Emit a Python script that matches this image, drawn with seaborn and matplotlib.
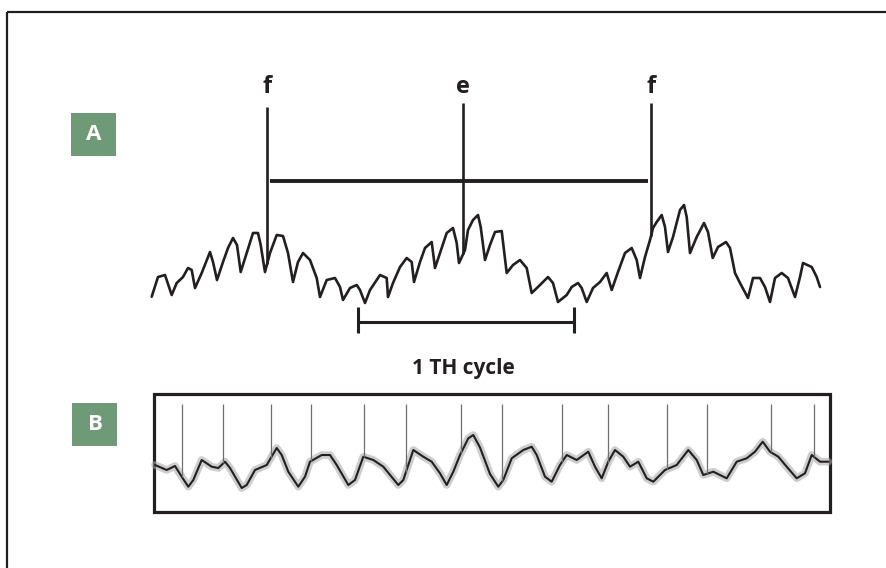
import numpy as np
import pandas as pd
import matplotlib
matplotlib.use("Agg")
import matplotlib.pyplot as plt
import seaborn as sns
from matplotlib.patches import Rectangle

# trace A (slow wave with fast ripples) in pixel units
trace_a_x = [151.7, 158, 165, 171.7, 176.7, 183, 188, 191.7, 195, 201.7, 210, 213, 217, 223, 228, 233,
             237, 240.7, 246.7, 253, 258, 260.7, 265, 270, 276.7, 283, 288, 293, 298, 303, 310, 316.7,
             320, 326.7, 335, 340, 343, 350, 356.7, 360, 365, 370, 380, 386.7, 388, 393, 400, 406.7,
             411.7, 414, 420, 425, 431.7, 435, 440, 446.7, 453, 456.7, 459, 465, 468, 473, 478, 480.7,
             485, 490, 495, 501.7, 506.7, 513, 520, 526.7, 531.7, 540, 548, 553, 558, 566.7, 571.7,
             578, 581.7, 586.7, 593, 600, 606.7, 611.7, 618, 625, 631.7, 636.7, 640, 645, 650, 653,
             656.7, 661.7, 665, 668, 673, 680, 684, 686.7, 690, 696.7, 704, 708, 712.7, 718, 726, 730,
             735, 740, 748, 753, 760, 765, 770, 775, 781.7, 788, 795, 800, 803, 811.7, 816.7, 820]
trace_a_y = [296.7, 277, 275, 295, 283, 277, 268, 270, 288, 273, 252, 262, 280, 262, 248, 238,
             245, 272, 253, 233, 233, 245, 272, 253, 235, 236, 253, 282, 262, 253, 260, 278,
             297, 280, 278, 287, 300, 288, 285, 290, 303, 290, 275, 278, 297, 283, 267, 258,
             262, 282, 262, 248, 242, 268, 253, 233, 228, 243, 263, 250, 230, 220, 215, 227,
             260, 245, 232, 231, 273, 265, 260, 268, 293, 285, 277, 283, 302, 295, 287,
             283, 288, 302, 288, 282, 273, 290, 272, 253, 248, 260, 278, 257, 240, 228,
             222, 215, 227, 252, 237, 210, 205, 217, 253, 237, 223, 232, 258, 247, 242, 248,
             273, 283, 298, 278, 278, 287, 302, 278, 273, 278, 297, 277, 263, 267, 277, 287]

# trace B (baseline of the noisy recording)
trace_b_x = [155, 166.7, 175, 181.7, 188.3, 193.3, 201.7, 211.7, 218.3, 225, 230, 241.7, 246.7, 255,
             266.7, 276.7, 281.7, 288.3, 298.3, 305, 310, 321.7, 330, 336.7, 348.3, 355, 363.3, 373.3,
             383.3, 398.3, 403.3, 413.3, 423.3, 431.7, 440, 446.7, 453.3, 460, 468.3, 473.3, 480,
             490, 498.3, 503.3, 511.7, 523.3, 531.7, 536.7, 545, 551.7, 560, 566.7, 576.7, 588.3,
             595, 601.7, 608.3, 615, 623.3, 630, 638.3, 646.7, 653.3, 665, 676.7, 688.3, 696.7,
             703.3, 713.3, 726.7, 736.7, 746.7, 755, 762.7, 770, 778.3, 786.7, 796.7, 805, 811.7,
             820, 828.3]
trace_b_y = [465, 470, 466, 476.7, 486.7, 480, 460, 466.7, 468, 461.7, 468, 488, 485, 470,
             465, 448, 455, 471.7, 486.7, 476.7, 461.7, 455, 455, 465, 485, 480, 456.7, 460,
             466.7, 485, 480, 450, 456.7, 461.7, 473.3, 485, 471.7, 455, 438.3, 435, 447.5,
             474, 486.7, 480, 458.3, 450, 446.7, 455, 476.7, 481.7, 465, 455, 460, 451.7,
             466.7, 478.3, 461.7, 450, 456.7, 466.7, 461.7, 478.3, 481.7, 470, 465, 450, 460,
             475, 471.7, 478.3, 461.7, 458.3, 451.7, 441.7, 451.7, 456.7, 466.7, 478.3, 473.3, 455,
             461.7, 461.7]

# spike positions on trace B
spike_x = [181.7, 223.3, 271, 311, 364.3, 406, 461, 502.3, 561.7, 607.7, 666.7, 707.3, 770.7, 814.3]

# marker lines (f, e, f)
marker_labels = ["f", "e", "f"]
marker_x = [267, 463, 651]

ink = "#231f20"
green = "#6e9a78"

sns.set_theme(style="white")
plt.rcParams["font.family"] = ["Open Sans", "DejaVu Sans"]

fig = plt.figure(figsize=(8.86, 5.68), dpi=100)
ax = fig.add_axes([0, 0, 1, 1])
ax.set_xlim(0, 886)
ax.set_ylim(568, 0)
ax.axis("off")

# outer frame (only top and left are in view)
ax.plot([7.5, 886], [11.5, 11.5], color=ink, lw=1.6, solid_capstyle="butt")
ax.plot([7.5, 7.5], [11.5, 568], color=ink, lw=1.6, solid_capstyle="butt")

# panel A trace
df_a = pd.DataFrame({"x": trace_a_x, "y": trace_a_y})
sns.lineplot(data=df_a, x="x", y="y", sort=False, estimator=None, color=ink, lw=1.9, ax=ax)

# f / e markers
marker_bottom = np.interp(marker_x, trace_a_x, trace_a_y)
marker_top = [107, 103, 103]
for lab, mx, mt, mb in zip(marker_labels, marker_x, marker_top, marker_bottom):
    ax.plot([mx, mx], [mt, mb], color=ink, lw=1.9, solid_capstyle="butt")
    ax.text(mx, 93, lab, ha="center", va="baseline", fontsize=17, fontweight="bold", color=ink)
ax.plot([270, 648], [181, 181], color=ink, lw=2.8, solid_capstyle="butt")

# 1 TH cycle bar
ax.plot([358, 574], [322, 322], color=ink, lw=2.2, solid_capstyle="butt")
ax.plot([358, 358], [307, 333], color=ink, lw=2.2, solid_capstyle="butt")
ax.plot([574, 574], [307, 333], color=ink, lw=2.2, solid_capstyle="butt")
ax.text(463, 374, "1 TH cycle", ha="center", va="baseline", fontsize=15, fontweight="bold", color=ink)

# panel B box
ax.add_patch(Rectangle((154.5, 394), 676, 117.5, fill=False, edgecolor=ink, lw=2.3))

# panel B trace: fuzzy band plus dark core
df_b = pd.DataFrame({"x": trace_b_x, "y": trace_b_y})
sns.lineplot(data=df_b, x="x", y="y", sort=False, estimator=None, color="#a5a5a5", lw=5.5, alpha=0.55, ax=ax)
sns.lineplot(data=df_b, x="x", y="y", sort=False, estimator=None, color=ink, lw=1.5, ax=ax)

spike_base = np.interp(spike_x, trace_b_x, trace_b_y)
ax.vlines(spike_x, 404, spike_base, color="#6f6f6f", lw=0.9)

# panel labels
for lab, (bx, by) in zip(["A", "B"], [(71.5, 113), (72.5, 403)]):
    ax.add_patch(Rectangle((bx, by), 45, 43, facecolor=green, edgecolor="none"))
    ax.text(bx + 22.5, by + 22, lab, ha="center", va="center", fontsize=16, fontweight="bold", color="white")

fig.savefig("out.png", dpi=100)
